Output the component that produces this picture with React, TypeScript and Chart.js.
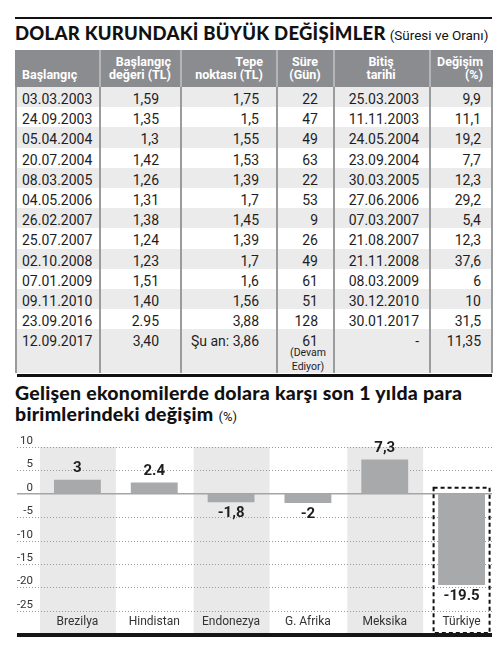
import React, { useEffect, useRef } from "react";
import { Chart, registerables } from "chart.js";

Chart.register(...registerables);

// ---------- Table data ----------
const headers: string[][] = [
  ["Başlangıç"],
  ["Başlangıç", "değeri (TL)"],
  ["Tepe", "noktası (TL)"],
  ["Süre", "(Gün)"],
  ["Bitiş", "tarihi"],
  ["Değişim", "(%)"],
];
const starts = ["03.03.2003", "24.09.2003", "05.04.2004", "20.07.2004", "08.03.2005", "04.05.2006", "26.02.2007", "25.07.2007", "02.10.2008", "07.01.2009", "09.11.2010", "23.09.2016", "12.09.2017"];
const startValues = ["1,59", "1,35", "1,3", "1,42", "1,26", "1,31", "1,38", "1,24", "1,23", "1,51", "1,40", "2.95", "3,40"];
const peaks = ["1,75", "1,5", "1,55", "1,53", "1,39", "1,7", "1,45", "1,39", "1,7", "1,6", "1,56", "3,88", "Şu an: 3,86"];
const durations = ["22", "47", "49", "63", "22", "53", "9", "26", "49", "61", "51", "128", "61"];
const ends = ["25.03.2003", "11.11.2003", "24.05.2004", "23.09.2004", "30.03.2005", "27.06.2006", "07.03.2007", "21.08.2007", "21.11.2008", "08.03.2009", "30.12.2010", "30.01.2017", "-"];
const changesPct = ["9,9", "11,1", "19,2", "7,7", "12,3", "29,2", "5,4", "12,3", "37,6", "6", "10", "31,5", "11,35"];
const ongoingNote = ["(Devam", "Ediyor)"];

// ---------- Chart data ----------
const countries = ["Brezilya", "Hindistan", "Endonezya", "G. Afrika", "Meksika", "Türkiye"];
const changeValues = [3, 2.4, -1.8, -2, 7.3, -19.5];
const changeLabels = ["3", "2.4", "-1,8", "-2", "7,3", "-19.5"];
const yMin = -30;
const yMax = 10;
const yStep = 5;

const FONT = "Roboto, 'Open Sans', sans-serif";
const HEAVY = "Lato, Roboto, sans-serif";

type Al = "left" | "right" | "center";
const colEdges = [16, 100, 181, 277, 334, 430, 492];
const headerPos: [Al, number][] = [["left", 22], ["right", 171], ["right", 263], ["center", 305], ["center", 381], ["right", 483]];
const dataPos: [Al, number][] = [["left", 22], ["right", 159], ["right", 259], ["right", 318], ["right", 419], ["right", 481]];

function place(al: Al, x: number): React.CSSProperties {
  if (al === "left") return { left: x, width: 200, textAlign: "left" };
  if (al === "right") return { left: x - 200, width: 200, textAlign: "right" };
  return { left: x - 100, width: 200, textAlign: "center" };
}

const HEADER_TOP = 50;
const HEADER_BOTTOM = 87;
const ROW_H = 20.2;
const TABLE_BOTTOM = 373;

function Table() {
  const cols = [starts, startValues, peaks, durations, ends, changesPct];
  const n = starts.length;
  const els: React.ReactNode[] = [];
  els.push(<div key="hbg" style={{ position: "absolute", left: 15, top: HEADER_TOP, width: 477, height: HEADER_BOTTOM - HEADER_TOP, background: "#8b8c8f" }} />);
  for (let r = 0; r < n; r++) {
    const top = HEADER_BOTTOM + r * ROW_H;
    const h = r === n - 1 ? TABLE_BOTTOM - top : ROW_H;
    els.push(<div key={"rbg" + r} style={{ position: "absolute", left: 15, top, width: 477, height: h, background: r % 2 === 0 ? "#ebebec" : "#ffffff" }} />);
  }
  colEdges.forEach((x, i) => {
    els.push(<div key={"vs" + i} style={{ position: "absolute", left: x - 1, top: HEADER_TOP, width: 2, height: HEADER_BOTTOM - HEADER_TOP, background: i === 0 || i === colEdges.length - 1 ? "#8b8c8f" : "#b4b5b7" }} />);
    els.push(<div key={"vd" + i} style={{ position: "absolute", left: x - 1, top: HEADER_BOTTOM, width: 2, height: TABLE_BOTTOM - HEADER_BOTTOM, background: "#9a9b9d" }} />);
  });
  headers.forEach((lines, c) => {
    const [al, x] = headerPos[c];
    lines.forEach((t, li) => {
      const cy = lines.length === 1 ? 75 : 62 + li * 13;
      els.push(
        <div key={"h" + c + "_" + li} style={{ position: "absolute", top: cy - 8, height: 16, lineHeight: "16px", fontSize: 12.5, fontWeight: 700, color: "#ffffff", whiteSpace: "nowrap", ...place(al, x) }}>{t}</div>
      );
    });
  });
  for (let r = 0; r < n; r++) {
    const cy = 99 + r * ROW_H;
    cols.forEach((col, c) => {
      const [al, x] = dataPos[c];
      els.push(
        <div key={"d" + r + "_" + c} style={{ position: "absolute", top: cy - 10, height: 20, lineHeight: "20px", fontSize: 14, color: "#1e1e1e", whiteSpace: "nowrap", ...place(al, x) }}>{col[r]}</div>
      );
    });
  }
  ongoingNote.forEach((t, i) => {
    els.push(
      <div key={"note" + i} style={{ position: "absolute", top: 353 + i * 14 - 7, height: 14, lineHeight: "14px", fontSize: 10.5, color: "#1e1e1e", whiteSpace: "nowrap", ...place("center", 308) }}>{t}</div>
    );
  });
  els.push(<div key="brule" style={{ position: "absolute", left: 17, top: 374, width: 475, height: 3, background: "#111" }} />);
  return <>{els}</>;
}

function BarChart() {
  const ref = useRef<HTMLCanvasElement | null>(null);
  useEffect(() => {
    if (!ref.current) return;
    const decor = {
      id: "decor",
      beforeDatasetsDraw(chart: any) {
        const ctx = chart.ctx;
        const x = chart.scales.x;
        const y = chart.scales.y;
        const area = chart.chartArea;
        const catW = x.getPixelForValue(1) - x.getPixelForValue(0);
        ctx.save();
        ctx.fillStyle = "#e9e9ea";
        countries.forEach((_, i) => {
          if (i % 2 === 0) {
            const cx = x.getPixelForValue(i);
            ctx.fillRect(cx - catW / 2 + 1, area.top, catW - 1, area.bottom - area.top);
          }
        });
        ctx.strokeStyle = "#9a9a9a";
        ctx.lineWidth = 1;
        ctx.setLineDash([1, 2]);
        ctx.fillStyle = "#333";
        ctx.font = `11.5px ${FONT}`;
        ctx.textAlign = "right";
        ctx.textBaseline = "middle";
        y.ticks.forEach((t: any) => {
          const v = t.value;
          if (v <= yMin) return;
          const py = Math.round(y.getPixelForValue(v)) + 0.5;
          if (v !== 0) {
            ctx.beginPath();
            ctx.moveTo(17, py);
            ctx.lineTo(492, py);
            ctx.stroke();
          }
          ctx.fillText(String(v), 33, py - 6);
        });
        ctx.setLineDash([]);
        ctx.strokeStyle = "#a5a5a5";
        ctx.lineWidth = 1.5;
        const zy = y.getPixelForValue(0);
        ctx.beginPath();
        ctx.moveTo(17, zy);
        ctx.lineTo(492, zy);
        ctx.stroke();
        ctx.restore();
      },
      afterDatasetsDraw(chart: any) {
        const ctx = chart.ctx;
        const x = chart.scales.x;
        const y = chart.scales.y;
        const area = chart.chartArea;
        ctx.save();
        ctx.fillStyle = "#1e1e1e";
        ctx.font = `bold 15px ${FONT}`;
        ctx.textAlign = "center";
        ctx.textBaseline = "middle";
        changeValues.forEach((v, i) => {
          const cx = x.getPixelForValue(i);
          const py = y.getPixelForValue(v);
          ctx.fillText(changeLabels[i], cx, v >= 0 ? py - 11 : py + 11);
        });
        ctx.fillStyle = "#333";
        ctx.font = `12px ${FONT}`;
        countries.forEach((c, i) => {
          ctx.fillText(c, x.getPixelForValue(i), area.bottom - 12);
        });
        const last = countries.length - 1;
        const cx = x.getPixelForValue(last);
        ctx.strokeStyle = "#111";
        ctx.lineWidth = 2;
        ctx.setLineDash([4, 3]);
        ctx.strokeRect(cx - 28, y.getPixelForValue(0) - 6, 56, area.bottom - (y.getPixelForValue(0) - 6) - 1);
        ctx.setLineDash([]);
        ctx.fillStyle = "#161616";
        ctx.fillRect(17, area.bottom - 1, 475, 4);
        ctx.restore();
      },
    };
    const chart = new Chart(ref.current, {
      type: "bar",
      data: {
        labels: countries,
        datasets: [
          {
            data: changeValues,
            backgroundColor: "#a8a9ab",
            barPercentage: 0.61,
            categoryPercentage: 1,
          },
        ],
      },
      options: {
        animation: false,
        responsive: false,
        maintainAspectRatio: false,
        layout: { padding: { left: 39, right: 0, top: 22, bottom: 33 } },
        plugins: { legend: { display: false }, tooltip: { enabled: false } },
        scales: {
          x: { display: false },
          y: { display: false, min: yMin, max: yMax, ticks: { stepSize: yStep } },
        },
      },
      plugins: [decor],
    });
    return () => chart.destroy();
  }, []);
  return <canvas ref={ref} width={500} height={242} style={{ position: "absolute", left: 0, top: 425, width: 500, height: 242 }} />;
}

export default function App() {
  return (
    <div style={{ position: "absolute", left: 0, top: 0, width: 500, height: 667, background: "#fff", overflow: "hidden", fontFamily: FONT }}>
      <div style={{ position: "absolute", left: 15, top: 17, width: 477, height: 1.5, background: "#111" }} />
      <div style={{ position: "absolute", left: 15, top: 21, whiteSpace: "nowrap", lineHeight: "24px", color: "#111" }}>
        <span style={{ fontFamily: HEAVY, fontSize: 18.5, fontWeight: 900, letterSpacing: 0.25 }}>DOLAR KURUNDAKİ BÜYÜK DEĞİŞİMLER</span>
        <span style={{ fontSize: 13.5, fontWeight: 400, marginLeft: 4 }}>(Süresi ve Oranı)</span>
      </div>
      <Table />
      <div style={{ position: "absolute", left: 15, top: 382, whiteSpace: "nowrap", fontFamily: HEAVY, fontSize: 19.5, fontWeight: 900, lineHeight: "21px", color: "#111", letterSpacing: 0.25 }}>
        <div>Gelişen ekonomilerde dolara karşı son 1 yılda para</div>
        <div>
          birimlerindeki değişim <span style={{ fontFamily: FONT, fontSize: 13, fontWeight: 400, letterSpacing: 0 }}>(%)</span>
        </div>
      </div>
      <BarChart />
    </div>
  );
}
